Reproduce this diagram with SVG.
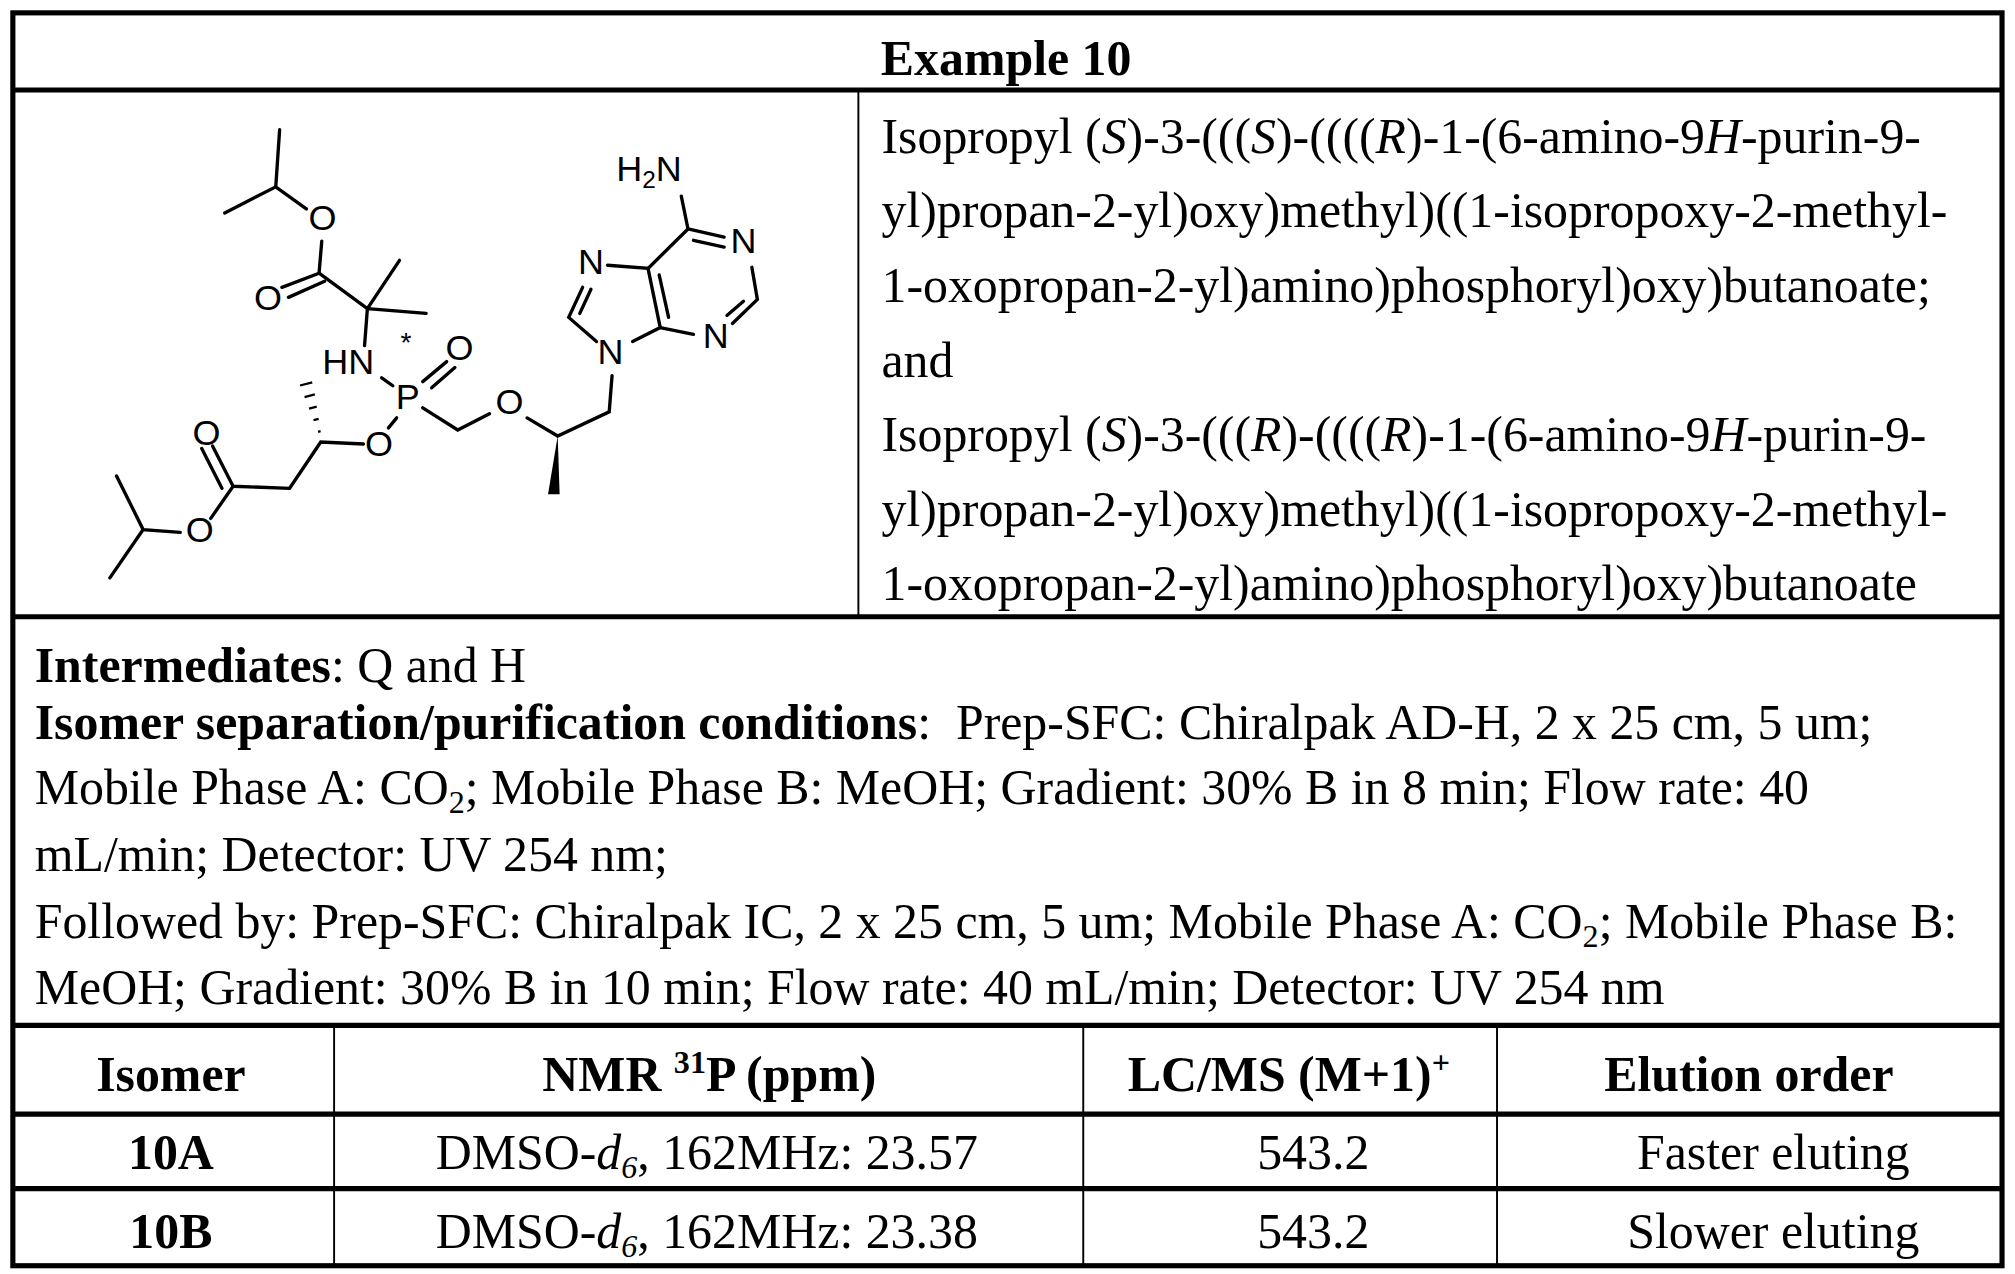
<svg xmlns="http://www.w3.org/2000/svg" width="2015" height="1274" viewBox="0 0 2015 1274">
<style>
.t{font-family:"Liberation Serif","Times New Roman",serif;font-size:38.8px;fill:#000}
.b{font-weight:bold}
.a{font-family:"Liberation Sans",Arial,sans-serif;font-size:28px;fill:#000}
.bd{stroke:#000;stroke-width:2.6;fill:none;stroke-linecap:round}
.th{stroke:#000;stroke-width:4;fill:none}
.tn{stroke:#000;stroke-width:1.5;fill:none}
</style>
<rect width="2015" height="1274" fill="#fff"/>
<g transform="scale(1.285)">
<g id="table">
<rect x="10" y="10" width="1548" height="975" class="th"/>
<line x1="10" y1="70" x2="1558" y2="70" class="th"/>
<line x1="10" y1="480" x2="1558" y2="480" class="th"/>
<line x1="10" y1="798" x2="1558" y2="798" class="th"/>
<line x1="10" y1="867" x2="1558" y2="867" class="th"/>
<line x1="10" y1="925" x2="1558" y2="925" class="th"/>
<line x1="668" y1="70" x2="668" y2="480" class="tn"/>
<line x1="260" y1="798" x2="260" y2="985" class="tn"/>
<line x1="843" y1="798" x2="843" y2="985" class="tn"/>
<line x1="1165" y1="798" x2="1165" y2="985" class="tn"/>
</g>
<g id="title"><text x="783" y="58" class="t b" text-anchor="middle">Example 10</text></g>
<g id="name" class="t">
<text x="686" y="119">Isopropyl (<tspan font-style="italic">S</tspan>)-3-(((<tspan font-style="italic">S</tspan>)-((((<tspan font-style="italic">R</tspan>)-1-(6-amino-9<tspan font-style="italic">H</tspan>-purin-9-</text>
<text x="686" y="177">yl)propan-2-yl)oxy)methyl)((1-isopropoxy-2-methyl-</text>
<text x="686" y="235">1-oxopropan-2-yl)amino)phosphoryl)oxy)butanoate;</text>
<text x="686" y="293">and</text>
<text x="686" y="351">Isopropyl (<tspan font-style="italic">S</tspan>)-3-(((<tspan font-style="italic">R</tspan>)-((((<tspan font-style="italic">R</tspan>)-1-(6-amino-9<tspan font-style="italic">H</tspan>-purin-9-</text>
<text x="686" y="409">yl)propan-2-yl)oxy)methyl)((1-isopropoxy-2-methyl-</text>
<text x="686" y="467">1-oxopropan-2-yl)amino)phosphoryl)oxy)butanoate</text>
</g>
<g id="conditions" class="t">
<text x="27" y="531"><tspan class="b">Intermediates</tspan>: Q and H</text>
<text x="27" y="575" xml:space="preserve"><tspan class="b">Isomer separation/purification conditions</tspan>:  Prep-SFC: Chiralpak AD-H, 2 x 25 cm, 5 um;</text>
<text x="27" y="626">Mobile Phase A: CO<tspan font-size="25" dy="7">2</tspan><tspan dy="-7">; Mobile Phase B: MeOH; Gradient: 30% B in 8 min; Flow rate: 40</tspan></text>
<text x="27" y="678">mL/min; Detector: UV 254 nm;</text>
<text x="27" y="730">Followed by: Prep-SFC: Chiralpak IC, 2 x 25 cm, 5 um; Mobile Phase A: CO<tspan font-size="25" dy="7">2</tspan><tspan dy="-7">; Mobile Phase B:</tspan></text>
<text x="27" y="781">MeOH; Gradient: 30% B in 10 min; Flow rate: 40 mL/min; Detector: UV 254 nm</text>
</g>
<g id="results" class="t" text-anchor="middle">
<text x="133" y="849" class="b">Isomer</text>
<text x="552" y="849" class="b">NMR <tspan font-size="25" dy="-14">31</tspan><tspan dy="14">P (ppm)</tspan></text>
<text x="1003" y="849" class="b">LC/MS (M+1)<tspan font-size="25" dy="-14">+</tspan></text>
<text x="1361" y="849" class="b">Elution order</text>
<text x="133" y="910" class="b">10A</text>
<text x="550" y="910">DMSO-<tspan font-style="italic">d</tspan><tspan font-size="25" font-style="italic" dy="7">6</tspan><tspan dy="-7">, 162MHz: 23.57</tspan></text>
<text x="1022" y="910">543.2</text>
<text x="1380" y="910">Faster eluting</text>
<text x="133" y="971" class="b">10B</text>
<text x="550" y="971">DMSO-<tspan font-style="italic">d</tspan><tspan font-size="25" font-style="italic" dy="7">6</tspan><tspan dy="-7">, 162MHz: 23.38</tspan></text>
<text x="1022" y="971">543.2</text>
<text x="1380" y="971">Slower eluting</text>
</g>
<g id="structure">
<g class="bd">
<path d="M217.6,101 L214.6,145.4 M174.9,165.7 L214.6,145.4 L238.4,162.6"/>
<path d="M250.4,187.6 L248.3,212.6 M248.3,212.6 L219.4,223.6 M252.6,218.9 L224.5,231.4"/>
<path d="M248.3,212.6 L285.9,240.2 L310.9,202.6 M285.9,240.2 L331.6,243.9 M285.9,240.2 L283.7,268.9"/>
<path d="M297,294 L305.7,300.2 M329,297 L347.6,281.4 M335.9,301.8 L354,286 M308.7,325.2 L302.3,333"/>
<path d="M282.8,345.5 L249.6,344 L225.4,380 L181.4,378.4 M181.4,378.4 L165.4,347 M172.7,380 L157,349"/>
<path d="M181.4,378.4 L164,403.4 M140.3,414.3 L111.4,412.1 L90.7,370.5 M111.4,412.1 L85.5,449.7"/>
<path d="M329,317.4 L356.2,334.6 L380.9,322 M410.2,325.2 L434,339.3 L474.1,320.5 L476.3,292.4"/>
<path d="M464.2,265.8 L442.6,247 L453.4,223.6 M451.2,243.9 L459.9,225.1 M472.8,206.4 L504.3,208.9 L513.8,254.9 L492.3,265.8 M513,214 L520.3,247"/>
<path d="M513.8,254.9 L539.7,260.2 M570,251.7 L589.4,233 L585.1,208 M565.7,245.5 L578.6,234.5"/>
<path d="M563.5,184.5 L535.4,178.2 M563.5,192.3 L539.7,187 M535.4,178.2 L504.3,208.9 M535.4,178.2 L530.2,152.6"/>
</g>
<path d="M434,339.3 L426.5,384.6 L435.5,384.6 Z" fill="#000"/>
<g stroke="#000" stroke-width="1.8">
<line x1="247.5" y1="336" x2="249.5" y2="335.5"/>
<line x1="244" y1="327" x2="248" y2="326"/>
<line x1="240.5" y1="318" x2="246.5" y2="316.5"/>
<line x1="237" y1="309" x2="245" y2="307"/>
<line x1="233.5" y1="300" x2="243" y2="297.5"/>
</g>
<g class="a" text-anchor="middle">
<text x="251" y="179">O</text>
<text x="208.6" y="241">O</text>
<text x="271" y="291">HN</text>
<text x="316" y="274" font-size="22">*</text>
<text x="317.4" y="318">P</text>
<text x="357.5" y="280">O</text>
<text x="295" y="355">O</text>
<text x="160.6" y="346">O</text>
<text x="155.4" y="422">O</text>
<text x="396.4" y="322">O</text>
<text x="475" y="283">N</text>
<text x="459.9" y="213">N</text>
<text x="557" y="271">N</text>
<text x="578.6" y="197">N</text>
<text x="505" y="141">H<tspan font-size="19" dy="5">2</tspan><tspan dy="-5">N</tspan></text>
</g>
</g>
</g>
</svg>
